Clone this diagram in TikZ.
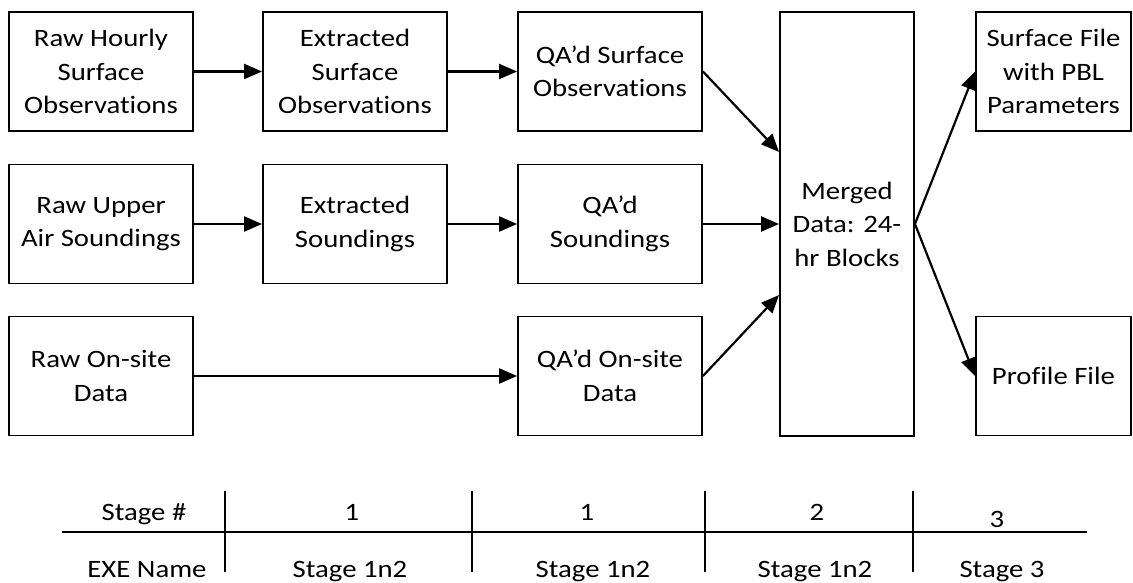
\documentclass[tikz,border=0pt]{standalone}
\usepackage{fontspec}
\setmainfont{Carlito}[FakeStretch=1.15, Ligatures=NoCommon]
\usetikzlibrary{arrows.meta}
\begin{document}
\begin{tikzpicture}[x=1pt,y=-1pt,
  box/.style={draw, line width=1.9pt, align=center, inner sep=0pt,
    font=\fontsize{25}{33.5}\selectfont},
  small/.style={box, minimum width=184pt, minimum height=119pt},
  flow/.style={-{Triangle[length=18pt,width=15pt]}, line width=2.2pt},
  lbl/.style={font=\fontsize{25}{28}\selectfont, anchor=base, inner sep=0pt},
  rule/.style={line width=2.6pt},
  tick/.style={line width=1.8pt}]
\useasboundingbox (0,0) rectangle (1133,583);

% stage 1: surface observations
\node[small] (a1) at (101,71.5) {Raw Hourly\\Surface\\Observations};
\node[small] (a2) at (355,71.5) {Extracted\\Surface\\Observations};
\node[small] (a3) at (610,71.5) {QA’d Surface\\Observations};
% stage 1: upper air
\node[small] (b1) at (101,224) {Raw Upper\\Air Soundings};
\node[small] (b2) at (355,224) {Extracted\\Soundings};
\node[small] (b3) at (610,224) {QA’d\\Soundings};
% stage 1: on-site data
\node[small] (c1) at (101,376) {Raw On-site\\Data};
\node[small] (c3) at (610,376) {QA’d On-site\\Data};
% stage 2
\node[box, minimum width=134pt, minimum height=424pt] (m) at (847,224) {Merged\\Data: 24-\\hr Blocks};
% stage 3
\node[box, minimum width=155pt, minimum height=119pt] (s) at (1053.5,71.5) {Surface File\\with PBL\\Parameters};
\node[box, minimum width=155pt, minimum height=119pt] (p) at (1053.5,376) {Profile File};

\draw[flow] (a1.east) -- (a2.west);
\draw[flow] (a2.east) -- (a3.west);
\draw[flow] (b1.east) -- (b2.west);
\draw[flow] (b2.east) -- (b3.west);
\draw[flow] (c1.east) -- (c3.west);
\draw[flow] (a3.east) -- ([yshift=72pt]m.west);
\draw[flow] (b3.east) -- (m.west);
\draw[flow] (c3.east) -- ([yshift=-71pt]m.west);
\draw[flow] (m.east) -- (s.west);
\draw[flow] (m.east) -- (p.west);

% stage table
\draw[rule] (62,532) -- (1087,532);
\foreach \x in {225,472,705,913} \draw[tick] (\x,491) -- (\x,572);

\node[lbl] (h1) at (144,520) {Stage \#};
\node[lbl] (n1) at (352,520) {1};
\node[lbl] (n2) at (587,520) {1};
\node[lbl] (n3) at (817,520) {2};
\node[lbl] (n4) at (997,527) {3};
\node[lbl] (h2) at (147,577) {EXE Name};
\node[lbl] (e1) at (350,577) {Stage 1n2};
\node[lbl] (e2) at (593,577) {Stage 1n2};
\node[lbl] (e3) at (815,577) {Stage 1n2};
\node[lbl] (e4) at (1002,577) {Stage 3};
\end{tikzpicture}
\end{document}
